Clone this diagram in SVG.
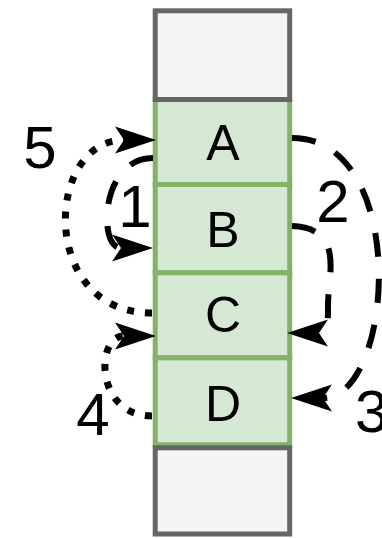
<svg xmlns="http://www.w3.org/2000/svg" width="382" height="538" viewBox="0 0 382 538">
  <style>
    .cell { fill: #d5e8d4; stroke: #82b366; stroke-width: 5; }
    .pad { fill: #f5f5f5; stroke: #666666; stroke-width: 5; }
    .letter { font-family: "Liberation Sans", Arial, sans-serif; font-size: 50px; fill: #000; text-anchor: middle; }
    .num { font-family: "Liberation Sans", Arial, sans-serif; font-size: 60px; fill: #000; text-anchor: middle; }
    .edge { fill: none; stroke: #000; stroke-width: 6; }
    .dashed { stroke-dasharray: 24 22; }
    .dotted { stroke-width: 7; stroke-dasharray: 7 11; }
  </style>
  <defs>
    <marker id="arrow" markerUnits="userSpaceOnUse" viewBox="-12 -16 46 32" refX="0" refY="0" markerWidth="46" markerHeight="32" orient="auto" overflow="visible">
      <path d="M 32 0 L -9 -13.5 L 0 0 L -9 13.5 Z" fill="#000"/>
    </marker>
  </defs>

  <!-- stack cells -->
  <g id="cell-a">
    <rect class="cell" x="155.2" y="99.5" width="134.5" height="85"/>
    <text class="letter" x="223" y="160">A</text>
  </g>
  <g id="cell-b">
    <rect class="cell" x="155.2" y="184.5" width="134.5" height="88.3"/>
    <text class="letter" x="223" y="247">B</text>
  </g>
  <g id="cell-c">
    <rect class="cell" x="155.2" y="272.8" width="134.5" height="85"/>
    <text class="letter" x="223" y="332">C</text>
  </g>
  <g id="cell-d">
    <rect class="cell" x="155.2" y="357.8" width="134.5" height="87"/>
    <text class="letter" x="223" y="421">D</text>
  </g>

  <!-- empty ends of the stack -->
  <g id="top-pad">
    <rect class="pad" x="155.2" y="10.8" width="134.5" height="88.7"/>
  </g>
  <g id="bottom-pad">
    <rect class="pad" x="155.2" y="447.8" width="134.5" height="86.2"/>
  </g>

  <!-- connectors -->
  <g id="connectors">
    <path id="edge-1" class="edge dashed" d="M 153 158 C 100 158, 98 248, 121 248" marker-end="url(#arrow)"/>
    <path id="edge-2" class="edge dashed" d="M 292 226 C 345 228, 328 275, 328 305 C 328 325, 328 333, 319 333" marker-end="url(#arrow)"/>
    <path id="edge-3" class="edge dashed" d="M 292 138 C 410 138, 395 398, 323 398" marker-end="url(#arrow)"/>
    <path id="edge-4" class="edge dotted" d="M 152 416 C 95 416, 95 336, 124 336" marker-end="url(#arrow)"/>
    <path id="edge-5" class="edge dotted" d="M 152 313 C 38 313, 45 140, 124 140" marker-end="url(#arrow)"/>
  </g>

  <!-- connector numbers -->
  <g id="labels">
    <text class="num" x="135" y="227">1</text>
    <text class="num" x="333" y="222">2</text>
    <text class="num" x="355" y="432" style="text-anchor:start">3</text>
    <text class="num" x="93" y="435">4</text>
    <text class="num" x="40" y="168">5</text>
  </g>
</svg>
